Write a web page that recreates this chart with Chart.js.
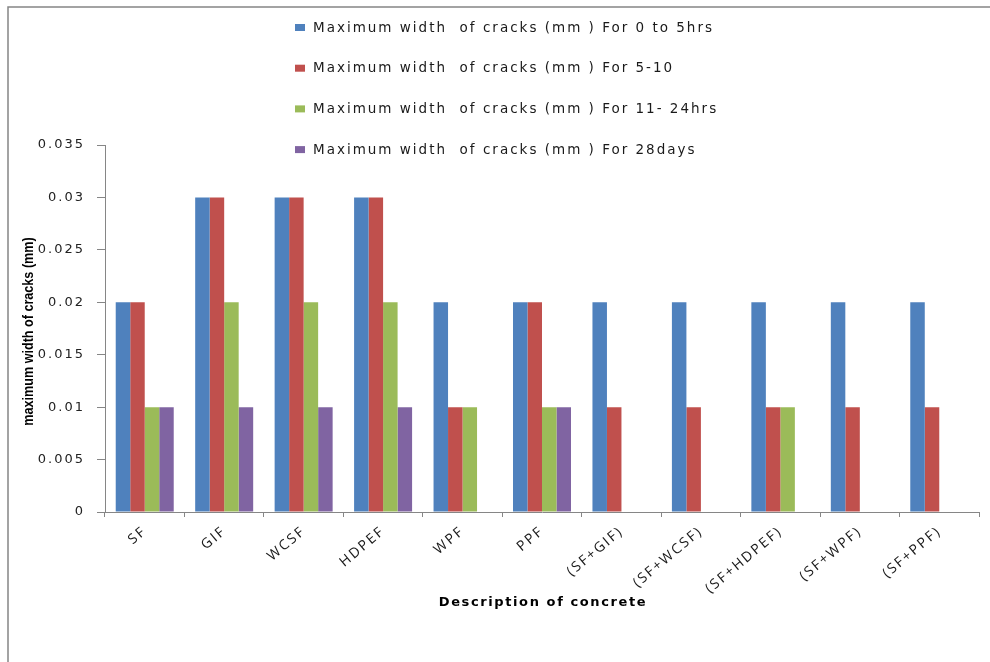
<!DOCTYPE html>
<html>
<head>
<meta charset="utf-8">
<script src="https://cdn.jsdelivr.net/npm/chart.js@4/dist/chart.umd.min.js"></script>
<style>
  html, body { margin: 0; padding: 0; background: #fff; }
  canvas { display: block; }
</style>
</head>
<body>
<canvas id="c" width="990" height="662"></canvas>
<script>
// Concrete mixes on the category axis
const categories = ['SF', 'GIF', 'WCSF', 'HDPEF', 'WPF', 'PPF',
  '(SF+GIF)', '(SF+WCSF)', '(SF+HDPEF)', '(SF+WPF)', '(SF+PPF)'];

// Series names (legend text)
const seriesNames = [
  'Maximum width  of cracks (mm ) For 0 to 5hrs',
  'Maximum width  of cracks (mm ) For 5-10',
  'Maximum width  of cracks (mm ) For 11- 24hrs',
  'Maximum width  of cracks (mm ) For 28days'
];

// Maximum crack width (mm) per period; null = no crack recorded
const crack0to5hrs   = [0.02, 0.03, 0.03, 0.03, 0.02, 0.02, 0.02, 0.02, 0.02, 0.02, 0.02];
const crack5to10     = [0.02, 0.03, 0.03, 0.03, 0.01, 0.02, 0.01, 0.01, 0.01, 0.01, 0.01];
const crack11to24hrs = [0.01, 0.02, 0.02, 0.02, 0.01, 0.01, null, null, 0.01, null, null];
const crack28days    = [0.01, 0.01, 0.01, 0.01, null, 0.01, null, null, null, null, null];

// Value axis ticks
const yTicks = [0, 0.005, 0.01, 0.015, 0.02, 0.025, 0.03, 0.035];
const yTickLabels = ['0', '0.005', '0.01', '0.015', '0.02', '0.025', '0.03', '0.035'];

const seriesColors = ['#4F81BD', '#C0504D', '#9BBB59', '#8064A2'];
const seriesValues = [crack0to5hrs, crack5to10, crack11to24hrs, crack28days];

const AXIS_GREY = '#868686';
const TICK_SPACING = '2px';

// Outer frame, vertical legend and axis titles drawn on top of the chart
const frameAndLabels = {
  id: 'frameAndLabels',
  beforeUpdate(chart) { chart.ctx.letterSpacing = TICK_SPACING; },
  beforeDraw(chart) { chart.ctx.letterSpacing = TICK_SPACING; },
  afterDraw(chart) {
    const ctx = chart.ctx;
    const area = chart.chartArea;
    ctx.save();

    // frame
    ctx.strokeStyle = '#858585';
    ctx.lineWidth = 1.5;
    ctx.beginPath();
    ctx.moveTo(8, 662);
    ctx.lineTo(8, 7);
    ctx.lineTo(990, 7);
    ctx.stroke();

    // legend
    ctx.letterSpacing = '2px';
    ctx.font = '13.5px "DejaVu Sans"';
    ctx.textAlign = 'left';
    ctx.textBaseline = 'middle';
    chart.data.datasets.forEach((ds, i) => {
      const y = 28 + i * 40.7;
      ctx.fillStyle = ds.backgroundColor;
      ctx.fillRect(295, y - 4, 10, 7);
      ctx.fillStyle = '#1a1a1a';
      ctx.fillText(ds.label, 313, y);
    });

    // y axis title
    ctx.letterSpacing = '0px';
    ctx.font = 'bold 14px "Liberation Sans", Arial, sans-serif';
    ctx.fillStyle = '#000';
    ctx.textAlign = 'center';
    ctx.save();
    ctx.translate(29, (area.top + area.bottom) / 2 + 3);
    ctx.rotate(-Math.PI / 2);
    ctx.scale(0.9, 1);
    ctx.fillText('maximum width of cracks (mm)', 0, 0);
    ctx.restore();

    // x axis title
    ctx.letterSpacing = '1.6px';
    ctx.font = 'bold 13px "DejaVu Sans"';
    ctx.fillText('Description of concrete', (area.left + area.right) / 2 + 1, 603);

    ctx.restore();
  }
};

new Chart(document.getElementById('c'), {
  type: 'bar',
  data: {
    labels: categories,
    datasets: seriesValues.map((vals, i) => ({
      label: seriesNames[i],
      data: vals,
      backgroundColor: seriesColors[i],
      borderWidth: 0,
      categoryPercentage: 0.73,
      barPercentage: 1.0
    }))
  },
  options: {
    responsive: false,
    animation: false,
    devicePixelRatio: 1,
    layout: { padding: { top: 145, right: 11, bottom: 0, left: 0 } },
    plugins: {
      legend: { display: false },
      tooltip: { enabled: false }
    },
    scales: {
      x: {
        afterFit(scale) { scale.height = 150; },
        grid: {
          display: true, drawOnChartArea: false, drawTicks: true,
          tickLength: 5, color: AXIS_GREY, offset: true
        },
        border: { display: true, color: AXIS_GREY, width: 1 },
        ticks: {
          autoSkip: false,
          minRotation: 40, maxRotation: 40,
          padding: 6,
          color: '#1a1a1a',
          font: { family: '"Open Sans"', size: 14 }
        }
      },
      y: {
        min: 0,
        max: 0.035,
        afterFit(scale) { scale.width = 105; },
        afterBuildTicks(scale) { scale.ticks = yTicks.map(v => ({ value: v })); },
        grid: {
          display: true, drawOnChartArea: false, drawTicks: true,
          tickLength: 8, color: AXIS_GREY
        },
        border: { display: true, color: AXIS_GREY, width: 1 },
        ticks: {
          padding: 12,
          color: '#222',
          font: { family: '"DejaVu Sans"', size: 13 },
          callback: (v, i) => yTickLabels[i]
        }
      }
    }
  },
  plugins: [frameAndLabels]
});
</script>
</body>
</html>
